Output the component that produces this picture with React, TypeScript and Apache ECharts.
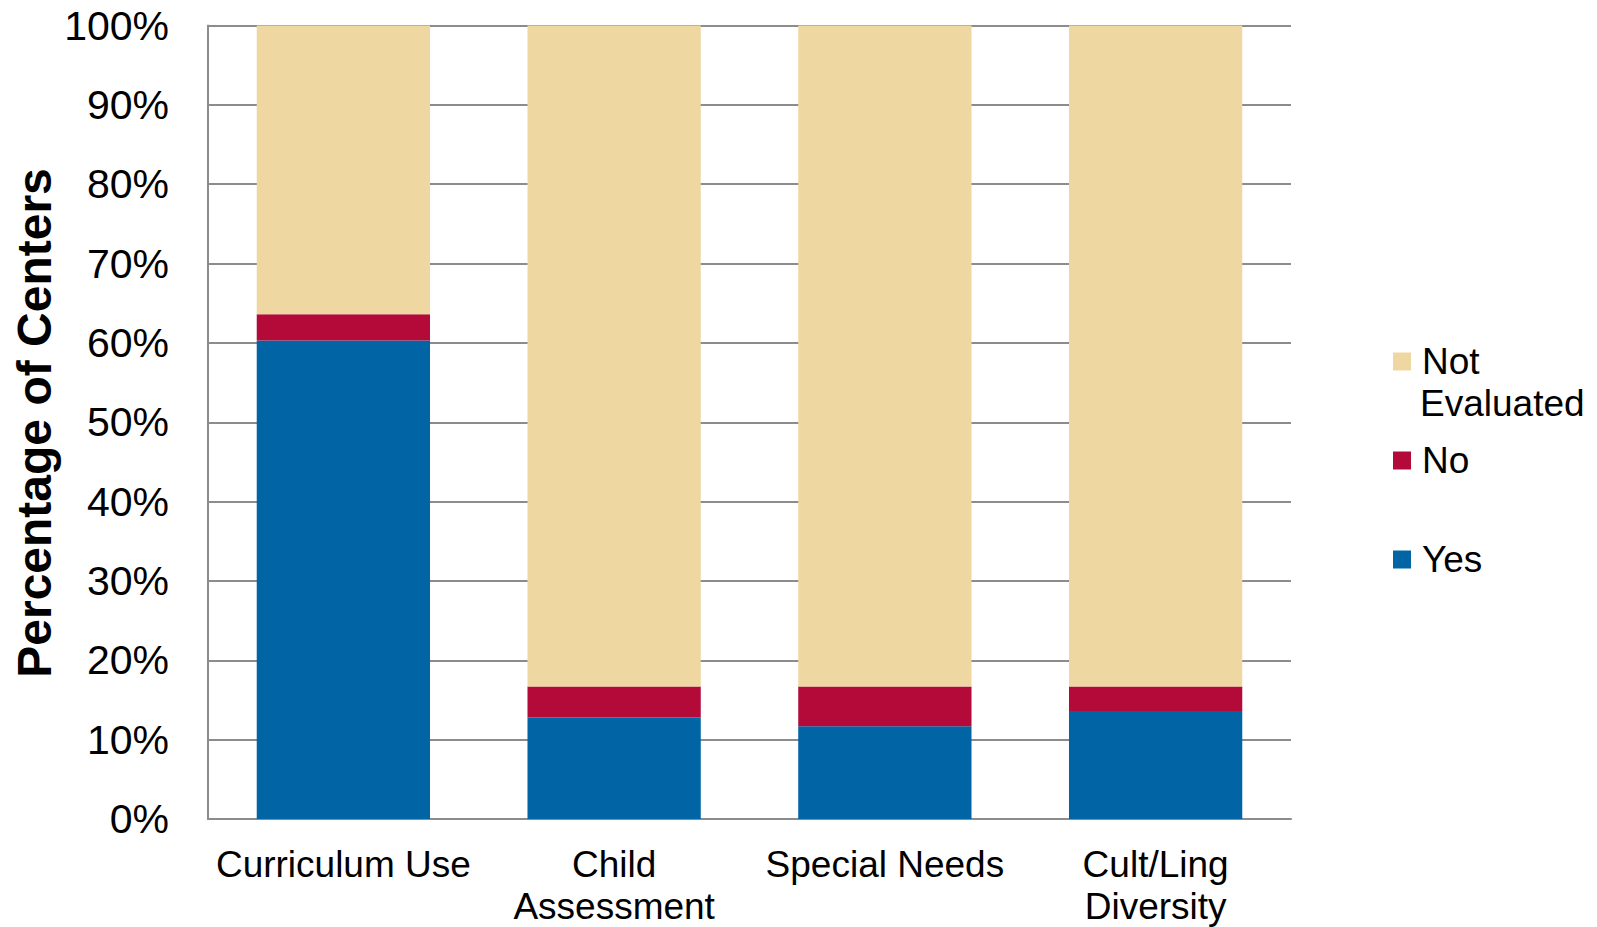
import React, { useEffect, useRef } from "react";
import * as echarts from "echarts";

const categories = ["Curriculum Use", "Child\nAssessment", "Special Needs", "Cult/Ling\nDiversity"];
const yesValues = [60.3, 12.8, 11.7, 13.6];
const noValues = [3.3, 3.9, 5.0, 3.1];
const notEvaluatedValues = [36.4, 83.3, 83.3, 83.3];
const yTickMax = 100;
const yTickInterval = 10;

const FONT = "Liberation Sans, Arial, Helvetica, sans-serif";

export default function App() {
  const ref = useRef<HTMLDivElement>(null);
  useEffect(() => {
    document.body.style.margin = "0";
    const chart = echarts.init(ref.current!, null, { renderer: "svg" });
    const legendBase = {
      orient: "vertical",
      itemWidth: 18,
      itemHeight: 18,
      icon: "rect",
      selectedMode: false,
      textStyle: { fontFamily: FONT, fontSize: 37, color: "#000", padding: [0, 0, 0, 6] },
    };
    chart.setOption({
      animation: false,
      backgroundColor: "#fff",
      grid: { left: 208, top: 25.5, right: 306, bottom: 107, containLabel: false },
      xAxis: {
        type: "category",
        data: categories,
        axisLine: { lineStyle: { color: "#8c8c8c", width: 2 } },
        axisTick: { show: false },
        axisLabel: {
          fontFamily: FONT,
          fontSize: 37,
          color: "#000",
          lineHeight: 42,
          margin: 24,
          interval: 0,
        },
      },
      yAxis: {
        type: "value",
        min: 0,
        max: yTickMax,
        interval: yTickInterval,
        axisLine: { show: true, lineStyle: { color: "#8c8c8c", width: 2 } },
        axisTick: { show: false },
        splitLine: { lineStyle: { color: "#8c8c8c", width: 2 } },
        axisLabel: {
          formatter: "{value}%",
          fontFamily: FONT,
          fontSize: 41,
          color: "#000",
          margin: 39,
        },
      },
      legend: [
        { ...legendBase, left: 1388, top: 338, data: ["Not Evaluated"], formatter: () => "Not" },
        { ...legendBase, left: 1388, top: 437, data: ["No"] },
        { ...legendBase, left: 1388, top: 536, data: ["Yes"] },
      ],
      graphic: [
        {
          type: "text",
          left: 1420,
          top: 385,
          style: { text: "Evaluated", font: `37px ${FONT}`, fill: "#000" },
        },
        {
          type: "text",
          x: 34,
          y: 423,
          rotation: Math.PI / 2,
          style: {
            text: "Percentage of Centers",
            font: `bold 48px ${FONT}`,
            fill: "#000",
            align: "center",
            verticalAlign: "middle",
          },
        },
      ],
      series: [
        {
          name: "Yes",
          type: "bar",
          stack: "total",
          data: yesValues,
          barCategoryGap: "36%",
          itemStyle: { color: "#0064A5" },
        },
        {
          name: "No",
          type: "bar",
          stack: "total",
          data: noValues,
          itemStyle: { color: "#B30A3A" },
        },
        {
          name: "Not Evaluated",
          type: "bar",
          stack: "total",
          data: notEvaluatedValues,
          itemStyle: { color: "#EED7A1" },
        },
      ],
    });
    return () => chart.dispose();
  }, []);
  return <div ref={ref} style={{ width: 1597, height: 927 }} />;
}
